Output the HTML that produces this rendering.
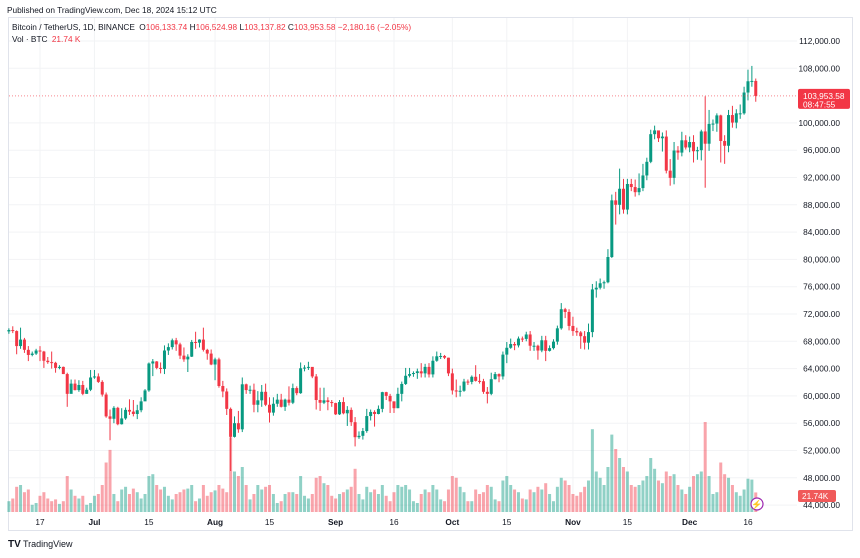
<!DOCTYPE html>
<html><head><meta charset="utf-8"><style>
body{margin:0;background:#fff;font-family:"Liberation Sans",sans-serif;}
svg text{font-family:"Liberation Sans",sans-serif;}
</style></head><body>
<svg id="chart" width="860" height="553" xmlns="http://www.w3.org/2000/svg">
<text x="7" y="13" font-size="8.3" fill="#131722">Published on TradingView.com, Dec 18, 2024 15:12 UTC</text>
<rect x="8.5" y="17.5" width="844" height="513" fill="none" stroke="#e0e3eb"/>
<g id="grid"></g><g id="vol"></g><g id="candles"></g><g id="axes"></g>
<text x="12" y="30" font-size="8.3" fill="#131722">Bitcoin / TetherUS, 1D, BINANCE <tspan dx="2">O</tspan><tspan fill="#f23645">106,133.74</tspan> <tspan>H</tspan><tspan fill="#f23645">106,524.98</tspan> <tspan>L</tspan><tspan fill="#f23645">103,137.82</tspan> <tspan>C</tspan><tspan fill="#f23645">103,953.58 −2,180.16 (−2.05%)</tspan></text>
<text x="12" y="42" font-size="8.3" fill="#131722">Vol · BTC <tspan dx="2" fill="#f23645">21.74 K</tspan></text>
<text x="8" y="547" font-size="10" font-weight="bold" fill="#131722">TV</text>
<text x="23" y="547" font-size="9" fill="#131722">TradingView</text>
</svg>
<script>
const closes=[69.65,69.5,67.3,68.25,66.75,66.0,66.2,66.65,66.5,65.15,64.95,64.85,64.1,64.25,63.2,60.3,61.8,60.85,61.6,60.3,60.9,62.7,
62.85,62.05,60.2,57.0,56.65,58.25,55.85,56.7,57.95,57.7,57.35,57.9,59.2,60.8,64.75,65.05,64.1,63.95,66.65,67.15,68.15,67.55,65.9,65.35,65.75,67.9,67.8,68.25,66.75,66.2,64.6,
65.35,61.45,60.65,58.1,54.0,56.0,55.1,61.7,60.85,60.9,58.7,59.35,60.6,58.7,57.55,58.85,59.45,58.4,59.45,59.0,61.15,60.4,64.05,64.15,64.25,62.85,59.4,59.0,59.35,59.1,58.95,
57.3,59.1,57.45,57.95,56.15,53.95,54.15,54.85,57.05,57.65,57.35,58.1,60.55,60.0,59.2,58.2,60.3,61.75,62.95,63.2,63.35,63.6,63.3,64.25,63.15,65.15,65.8,65.85,65.6,63.3,
60.8,60.65,60.75,62.1,62.05,62.8,62.2,62.15,60.6,60.3,62.45,63.2,62.85,66.05,67.05,67.6,67.4,68.4,68.35,69.0,67.35,67.35,66.65,68.15,66.6,67.0,67.95,69.9,72.7,72.3,70.25,
69.5,69.3,68.75,67.8,69.35,75.6,75.85,76.5,76.65,80.35,88.65,88.0,90.35,87.3,91.05,90.6,89.85,90.45,92.3,94.3,98.35,98.9,97.75,98.0,93.0,91.95,95.95,95.65,97.45,96.4,
97.2,95.85,96.0,98.75,96.95,99.85,99.9,101.1,97.35,96.65,101.15,100.05,101.4,101.4,104.45,106.1,106.15,103.95];
const highs=[69.9,70.2,69.6,70.0,68.5,67.3,66.5,66.9,67.3,66.6,65.7,66.5,65.0,64.5,64.3,63.4,62.4,62.4,62.3,62.2,61.2,63.8,
63.8,63.3,62.3,60.5,58.0,58.5,58.4,58.2,58.3,59.5,59.4,58.7,59.8,61.0,64.9,65.4,65.1,64.9,67.4,67.7,68.4,68.5,67.8,67.1,66.1,68.2,69.4,68.3,70.0,66.9,66.8,
65.6,65.6,62.2,61.1,58.3,57.0,57.8,62.7,61.8,61.5,61.8,60.7,61.6,61.8,59.8,59.8,60.3,60.3,59.6,61.4,61.8,61.4,64.9,64.5,65.0,64.1,63.2,61.2,61.2,59.8,59.4,
59.0,59.4,59.8,58.5,58.3,56.9,54.8,55.3,58.1,58.0,57.9,58.6,60.6,60.6,60.3,59.2,61.2,62.1,64.1,64.1,63.6,64.0,64.8,64.7,64.8,65.8,66.5,66.3,66.0,65.6,
64.0,62.4,61.5,62.5,62.4,63.0,64.5,63.2,62.5,61.3,63.4,63.5,63.3,66.5,67.9,68.4,67.9,68.7,68.7,69.4,69.5,67.9,67.5,68.8,68.8,67.4,68.3,70.3,73.6,72.9,72.7,
71.6,70.0,69.5,69.5,70.6,76.4,76.8,77.2,76.9,81.5,89.5,89.9,93.3,91.8,91.8,91.8,91.7,92.6,94.0,94.9,99.0,99.6,98.8,98.6,98.9,94.7,97.2,96.6,98.7,98.2,
98.0,98.2,96.5,99.0,103.9,101.9,100.5,101.4,101.2,98.2,101.9,102.5,102.0,102.7,105.3,107.8,108.35,106.5];
const lows=[69.1,69.2,66.1,66.9,66.3,65.1,65.8,66.0,65.1,64.1,64.7,64.0,63.4,63.9,63.2,58.4,60.6,60.8,60.6,60.1,60.3,60.7,
62.5,61.9,59.9,56.8,53.5,56.0,55.7,55.8,56.5,57.2,57.0,56.6,57.6,59.4,60.6,62.9,63.9,63.3,63.2,66.0,66.8,66.6,65.4,65.0,63.5,65.7,66.9,67.1,66.5,65.3,64.5,
62.3,61.2,59.8,57.2,49.0,53.9,54.6,54.7,60.3,60.3,57.6,57.6,58.4,58.5,56.1,57.1,58.4,58.3,57.8,58.6,58.8,60.1,60.3,63.6,63.8,62.6,58.0,57.8,58.8,57.9,58.4,
57.2,57.2,57.3,55.6,55.6,52.6,53.7,53.6,54.6,56.4,55.5,57.3,57.6,59.4,57.5,57.5,58.2,59.2,61.6,62.7,62.8,62.5,62.7,62.7,62.7,62.7,65.0,65.4,65.4,62.9,
60.2,59.8,59.9,60.6,61.6,61.7,62.1,61.8,60.3,58.9,60.1,62.4,62.0,62.4,64.8,66.9,66.7,67.1,67.9,68.0,66.6,66.6,65.3,66.4,65.1,66.5,66.8,67.5,69.7,71.4,69.6,
68.8,68.8,66.9,66.8,66.8,68.6,74.4,75.6,75.7,76.5,80.2,85.1,86.6,86.7,86.6,90.0,89.2,89.4,90.0,91.6,94.1,97.6,97.2,95.8,92.6,90.8,91.0,94.6,95.1,96.1,
95.7,94.2,94.6,94.5,90.5,95.9,98.8,98.7,94.2,94.0,95.7,99.3,99.2,100.6,101.2,103.3,105.3,103.1];
const firstOpen=69.45;
const volumes=[12,15,28,30,22,25,8,10,18,22,15,12,14,9,12,40,25,18,15,18,8,10,
18,20,30,55,69,20,12,25,28,20,26,22,15,20,40,42,30,25,28,18,14,20,22,25,26,30,12,15,30,18,22,
24,30,26,22,83,45,40,50,30,14,20,30,25,28,30,20,10,12,20,22,22,20,40,18,15,20,38,40,32,30,18,
15,20,22,25,28,48,20,14,28,22,25,20,30,18,12,22,30,28,30,25,12,10,20,25,22,30,25,14,12,25,
40,38,28,22,12,12,25,20,22,30,28,14,12,35,40,30,25,22,15,14,25,22,28,25,32,20,12,28,38,35,30,
20,18,22,28,35,92,45,38,30,50,86,70,60,50,45,30,28,30,35,40,60,48,35,32,45,40,42,30,25,20,
28,40,42,45,100,40,20,22,55,42,38,30,22,18,25,37,36,21.74];
const priceTicks=[44,48,52,56,60,64,68,72,76,80,84,88,92,96,100,104,108,112];
const timeTickIdx=[8,22,36,53,67,84,99,114,128,145,159,175,190];
const timeTickLabels=["17","Jul","15","Aug","15","Sep","16","Oct","15","Nov","15","Dec","16"];
const timeTickBold=[false,true,false,true,false,true,false,true,false,true,false,true,false];
const lastPrice=103.95358;

const NS="http://www.w3.org/2000/svg";
function X(i){return 40+(i-8)*3.89;}
function Y(p){return 41+(112-p)*27.3/4;}
function V(v){return v*0.9;}
function mk(parent,tag,attrs){const e=document.createElementNS(NS,tag);for(const k in attrs)e.setAttribute(k,attrs[k]);document.getElementById(parent).appendChild(e);return e;}
const UP="#089981",DN="#f23645";
priceTicks.forEach(p=>{
  if(p===104) return;
  const l=mk('grid','line',{x1:9,x2:797,y1:Y(p),y2:Y(p),stroke:'#f2f3f5'});
  
  
  const t=mk('axes','text',{x:840,y:Y(p)+3,'font-size':8.3,fill:'#131722','text-anchor':'end'});
  t.textContent=(p*1000).toLocaleString('en-US')+'.00';
  
  
});
timeTickIdx.forEach((i,k)=>{
  const l=mk('grid','line',{x1:X(i),x2:X(i),y1:18,y2:512,stroke:'#f2f3f5'});
  
  
  const t=mk('axes','text',{x:X(i),y:525,'font-size':8.3,fill:'#131722','text-anchor':'middle','font-weight':timeTickBold[k]?'bold':'normal'});
  t.textContent=timeTickLabels[k];
  
  
});
closes.forEach((c,i)=>{
  const o=i===0?firstOpen:closes[i-1];
  const col=c>=o?UP:DN;
  const x=X(i);
  const vb=mk('vol','rect',{x:x-1.5,y:512-V(volumes[i]),width:3,height:V(volumes[i]),fill:col,opacity:0.45});
  
  
  const w=mk('candles','line',{x1:x,x2:x,y1:Y(highs[i]),y2:Y(lows[i]),stroke:col,'stroke-width':1});
  
  
  const top=Y(Math.max(o,c)),h=Math.max(1,Y(Math.min(o,c))-top);
  const b=mk('candles','rect',{x:x-1.5,y:top,width:3,height:h,fill:col});
  
  
});
const pl=mk('axes','line',{x1:9,x2:797,y1:Y(lastPrice),y2:Y(lastPrice),stroke:'#f23645','stroke-dasharray':'1 2','stroke-opacity':0.6});


const pb=mk('axes','rect',{x:798,y:Y(lastPrice)-7,width:52,height:20,rx:2,fill:'#f23645'});


const pt=mk('axes','text',{x:803,y:Y(lastPrice)+3,'font-size':8.3,fill:'#fff'});
pt.textContent='103,953.58';


const ct=mk('axes','text',{x:803,y:Y(lastPrice)+11.5,'font-size':8.3,fill:'#fff'});
ct.textContent='08:47:55';


const vbx=mk('axes','rect',{x:798,y:490,width:38,height:12,rx:2,fill:'#f05a5a'});


const vt=mk('axes','text',{x:802,y:499,'font-size':8.3,fill:'#fff'});
vt.textContent='21.74K';


const ic=mk('axes','circle',{cx:757,cy:504,r:6,fill:'#fff',stroke:'#9c27b0','stroke-width':1.2});


const it=mk('axes','text',{x:757,y:507.5,'font-size':9,fill:'#9c27b0','text-anchor':'middle'});
it.textContent='⚡';


</script>
</body></html>
